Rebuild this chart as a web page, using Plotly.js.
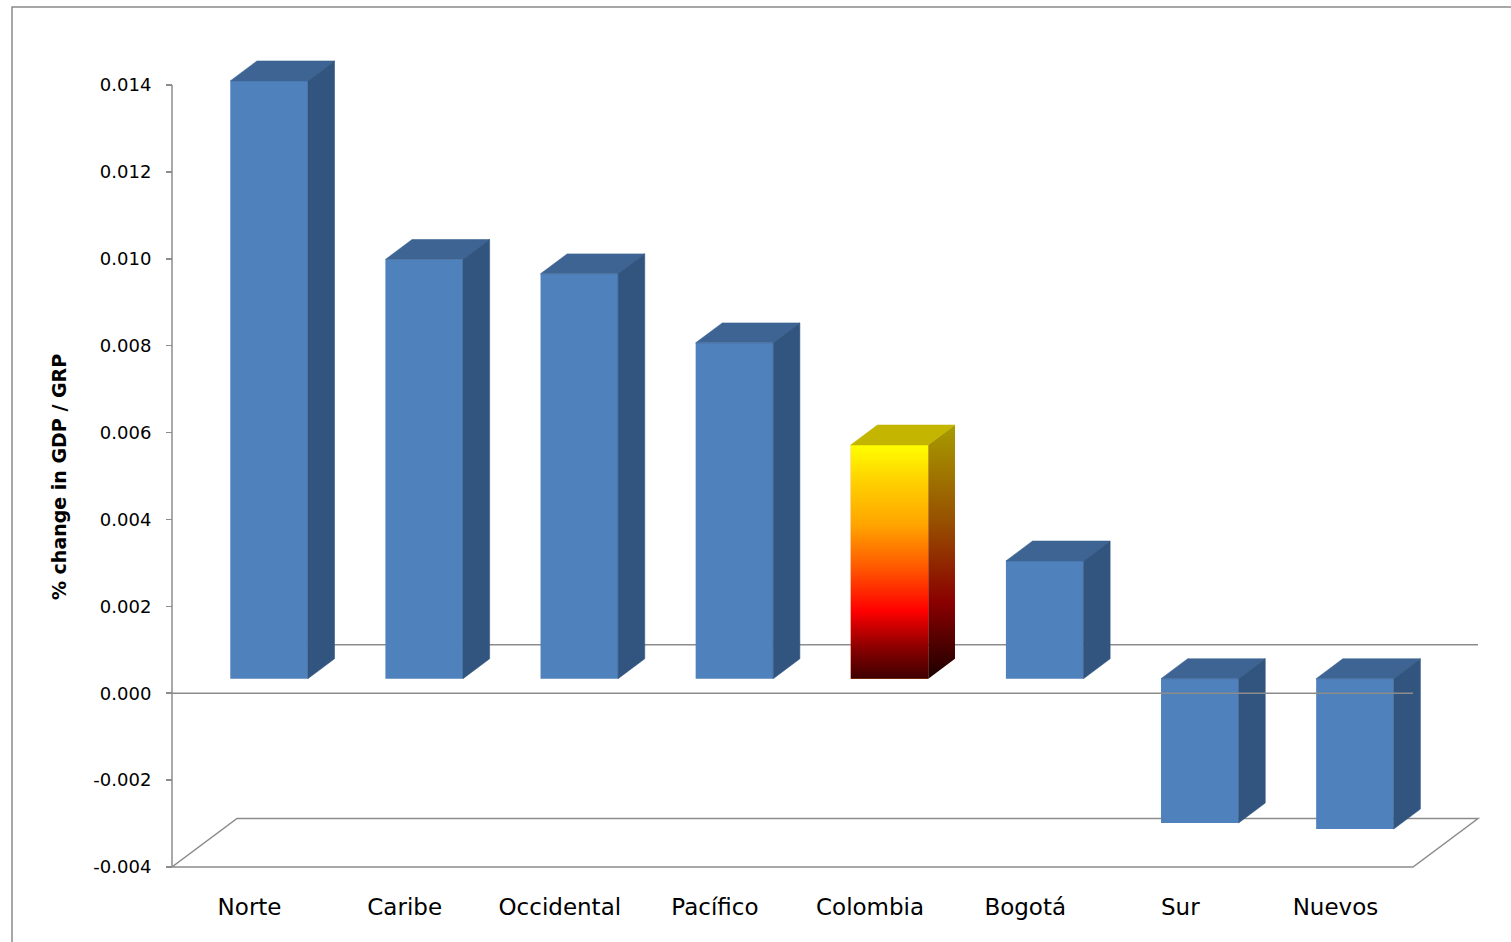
<!DOCTYPE html>
<html><head><meta charset="utf-8">
<script src="https://cdn.plot.ly/plotly-3.0.1.min.js"></script>
<style>html,body{margin:0;padding:0;background:#fff;} #chart{width:1511px;height:942px;}</style>
</head><body><div id="chart"></div>
<script>
// ---------------- data ----------------
const categories = ['Norte', 'Caribe', 'Occidental', 'Pacífico', 'Colombia', 'Bogotá', 'Sur', 'Nuevos'];
const values = [0.01376, 0.00965, 0.00932, 0.00773, 0.00538, 0.00271, -0.00332, -0.00346];
const highlightCategory = 'Colombia';
const yTickVals = [-0.004, -0.002, 0, 0.002, 0.004, 0.006, 0.008, 0.010, 0.012, 0.014];
const yTickText = ['-0.004', '-0.002', '0.000', '0.002', '0.004', '0.006', '0.008', '0.010', '0.012', '0.014'];
const yTitle = '% change in GDP / GRP';

// ---------------- geometry / style ----------------
const W = 1511, H = 942;
const ML = 150, MR = 20, MT = 50, MB = 38;
const plotW = W - ML - MR, plotH = H - MT - MB;
const axisLeftPx = 172, frontWidthPx = 1241;
const yMinPx = 867, yMaxPx = 85;
const xAxisPx = 870;
const n = categories.length;
const pxPerCat = frontWidthPx / n;
const yMin = yTickVals[0], yMax = yTickVals[yTickVals.length - 1];
const pxPerUnit = (yMinPx - yMaxPx) / (yMax - yMin);
const xRange = [-0.5 - (axisLeftPx - ML) / pxPerCat, -0.5 + (ML + plotW - axisLeftPx) / pxPerCat];
const yLow = yMin - ((H - MB) - yMinPx) / pxPerUnit;
const yRange = [yLow, yLow + plotH / pxPerUnit];
const DX = 65 / pxPerCat, DY = 48.5 / pxPerUnit;   // full depth of the 3D box
const F1 = 0.3, F2 = 0.71, BW = 0.5;               // bar depth slice and width
const BLUE = '#4F81BD', BLUE_TOP = '#3D6493', BLUE_SIDE = '#32557F';
const GRID = '#8C8C8C';
const FONT = 'DejaVu Sans, Verdana, sans-serif';

const xFront = categories.map((c, i) => i + F1 * DX);
const base = F1 * DY;

function facePolys(i) {
  const v = values[i];
  const xl = i - BW / 2 + F1 * DX, xr = i + BW / 2 + F1 * DX;
  const hi = Math.max(base, base + v), lo = Math.min(base, base + v);
  const ddx = (F2 - F1) * DX, ddy = (F2 - F1) * DY;
  return {
    front: [[xl, lo], [xr, lo], [xr, hi], [xl, hi], [xl, lo]],
    top: [[xl, hi], [xr, hi], [xr + ddx, hi + ddy], [xl + ddx, hi + ddy], [xl, hi]],
    side: [[xr, lo], [xr, hi], [xr + ddx, hi + ddy], [xr + ddx, lo + ddy], [xr, lo]]
  };
}
function polyTrace(polys, color, extra) {
  const x = [], y = [];
  polys.forEach((p, k) => {
    if (k) { x.push(null); y.push(null); }
    p.forEach(pt => { x.push(pt[0]); y.push(pt[1]); });
  });
  return Object.assign({
    type: 'scatter', mode: 'lines', x, y, fill: 'toself', fillcolor: color,
    line: {width: 0.6, color: color}, hoverinfo: 'skip', showlegend: false
  }, extra || {});
}

const hiIdx = categories.indexOf(highlightCategory);
const blueIdx = categories.map((c, i) => i).filter(i => i !== hiIdx);
const hiFaces = facePolys(hiIdx);

const traces = [
  {
    type: 'bar', x: xFront, y: values, base: base, width: BW,
    marker: {color: categories.map((c, i) => i === hiIdx ? '#FF6A00' : BLUE), line: {width: 0}},
    hovertext: categories, hoverinfo: 'text+y', textposition: 'none', showlegend: false
  },
  polyTrace(blueIdx.map(i => facePolys(i).top), BLUE_TOP),
  polyTrace(blueIdx.map(i => facePolys(i).side), BLUE_SIDE),
  polyTrace([hiFaces.front], '#FF6A00', {
    line: {width: 0},
    fillgradient: {type: 'vertical', colorscale: [
      [0, '#3E0000'], [0.14, '#900000'], [0.29, '#FF0000'], [0.48, '#FF5A00'],
      [0.66, '#FFA500'], [0.85, '#FFD200'], [1, '#FFFF00']]}
  }),
  polyTrace([hiFaces.top], '#C4B500'),
  polyTrace([hiFaces.side], '#8B2000', {
    line: {width: 0},
    fillgradient: {type: 'vertical', colorscale: [
      [0, '#1C0000'], [0.3, '#8A0000'], [0.62, '#975000'], [1, '#A89C00']]}
  })
];

const x0 = -0.5, x1 = n - 0.5;
const shapes = [
  // outer chart border
  {type: 'rect', xref: 'paper', yref: 'paper',
   x0: (12 - ML) / plotW, x1: (W + 10 - ML) / plotW,
   y0: ((H - MB) - (H + 10)) / plotH, y1: ((H - MB) - 7) / plotH,
   line: {color: '#8A8A8A', width: 1.5}, layer: 'below'},
  // value axis line
  {type: 'line', xref: 'x', yref: 'y', x0: x0, x1: x0, y0: yMin, y1: yMax,
   line: {color: GRID, width: 1.5}, layer: 'below'},
  // floor
  {type: 'path', xref: 'x', yref: 'y',
   path: `M ${x0},${yMin} L ${x1},${yMin} L ${x1 + DX},${yMin + DY} L ${x0 + DX},${yMin + DY} Z`,
   line: {color: GRID, width: 1.5}, layer: 'below'},
  // back zero line
  {type: 'line', xref: 'x', yref: 'y', x0: x0 + DX, x1: x1 + DX, y0: DY, y1: DY,
   line: {color: GRID, width: 1.5}, layer: 'below'},
  // front zero line
  {type: 'line', xref: 'x', yref: 'y', x0: x0, x1: x1, y0: 0, y1: 0,
   line: {color: GRID, width: 1.5}, layer: 'above'}
];

const layout = {
  width: W, height: H,
  margin: {l: ML, r: MR, t: MT, b: MB},
  paper_bgcolor: '#ffffff', plot_bgcolor: 'rgba(0,0,0,0)',
  showlegend: false,
  xaxis: {
    range: xRange, anchor: 'free', position: ((H - MB) - xAxisPx) / plotH,
    showgrid: false, zeroline: false, showline: false,
    tickmode: 'array', tickvals: categories.map((c, i) => i), ticktext: categories,
    ticks: '', ticklabelstandoff: 21,
    tickfont: {family: FONT, size: 23, color: '#000'}, fixedrange: true
  },
  yaxis: {
    range: yRange, anchor: 'free', position: (axisLeftPx - ML) / plotW,
    showgrid: false, zeroline: false, showline: false,
    tickmode: 'array', tickvals: yTickVals, ticktext: yTickText,
    ticks: 'outside', ticklen: 6, tickwidth: 1.5, tickcolor: GRID,
    ticklabelstandoff: 11,
    tickfont: {family: FONT, size: 18, color: '#000'},
    title: {text: yTitle, font: {family: FONT, size: 19, color: '#000', weight: 'bold'}, standoff: 20},
    fixedrange: true
  },
  shapes: shapes
};

Plotly.newPlot('chart', traces, layout, {displayModeBar: false, staticPlot: true});
</script>
</body></html>
